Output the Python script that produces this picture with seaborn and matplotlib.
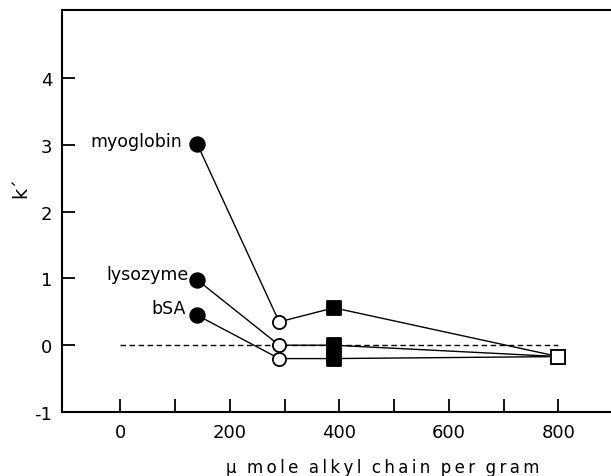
import matplotlib
matplotlib.use("Agg")
import matplotlib.pyplot as plt
import seaborn as sns
import pandas as pd

# ---- data ----
proteins = ["myoglobin", "lysozyme", "bSA"]
alkyl_x = [140, 290, 390, 800]          # µmole alkyl chain per gram
stage = ["filled circle", "open circle", "filled square", "open square"]
k_myoglobin = [3.02, 0.35, 0.56, -0.17]
k_lysozyme = [0.98, 0.00, 0.00, -0.17]
k_bsa = [0.45, -0.20, -0.20, -0.17]
baseline_x = [0, 800]
baseline_y = [0, 0]
xticks_major = [0, 200, 400, 600, 800]
xticks_minor = [100, 300, 500, 700]
yticks = [-1, 0, 1, 2, 3, 4]
xlabel_words = ["\u03bc", "mole", "alkyl", "chain", "per", "gram"]

series = {"myoglobin": k_myoglobin, "lysozyme": k_lysozyme, "bSA": k_bsa}
rows = []
for p in proteins:
    for x, k, s in zip(alkyl_x, series[p], stage):
        rows.append({"protein": p, "x": x, "k": k, "stage": s})
df = pd.DataFrame(rows)

sns.set_style("ticks")
plt.rcParams["font.family"] = ["DejaVu Sans"]
plt.rcParams["text.color"] = "black"
plt.rcParams["axes.labelcolor"] = "black"
plt.rcParams["xtick.color"] = "black"
plt.rcParams["ytick.color"] = "black"

fig = plt.figure(figsize=(6.11, 4.77), dpi=100)
ax = fig.add_axes([62 / 611, 64 / 477, 641 / 611, 402 / 477])

# dashed zero line
ax.plot(baseline_x, baseline_y, ls=(0, (4, 2.5)), color="black", lw=1.0, zorder=1)

# connecting lines
sns.lineplot(data=df, x="x", y="k", units="protein", estimator=None,
             color="black", lw=1.0, sort=False, ax=ax, zorder=2, legend=False)

# markers
fills = {"filled circle": "black", "open circle": "white",
         "filled square": "black", "open square": "white"}
marks = {"filled circle": "o", "open circle": "o",
         "filled square": "s", "open square": "s"}
sizes = {"filled circle": 110, "open circle": 90,
         "filled square": 90, "open square": 95}
for s in stage:
    sub = df[df["stage"] == s]
    sns.scatterplot(data=sub, x="x", y="k", marker=marks[s], color=fills[s],
                    edgecolor="black", linewidth=1.3, s=sizes[s], ax=ax,
                    zorder=3, legend=False)

# protein labels
offsets = {"myoglobin": (-11, 2), "lysozyme": (-6, 4.5), "bSA": (-8, 5)}
for p in proteins:
    ax.annotate(p, (alkyl_x[0], series[p][0]), xytext=offsets[p],
                textcoords="offset points", ha="right", va="center",
                fontsize=12.5, color="black")

ax.set_xlim(-106.6, 1064)
ax.set_ylim(-1, 5.02)
ax.set_xticks(xticks_major)
ax.set_xticks(xticks_minor, minor=True)
ax.set_yticks(yticks)
ax.set_xticklabels([str(v) for v in xticks_major])
ax.set_yticklabels([str(v) for v in yticks])

ax.tick_params(axis="both", which="both", direction="in", length=9.5,
               width=1.3, color="black", labelcolor="black", labelsize=13, pad=7)
ax.tick_params(axis="x", pad=8)
for sp in ax.spines.values():
    sp.set_linewidth(1.5)
    sp.set_color("black")

# letter-spaced axis title (thin spaces between letters, as in the original print)
xlabel = "  ".join("\u2009".join(w) for w in xlabel_words)
ax.set_xlabel(xlabel, fontsize=12, color="black")
ax.xaxis.label.set_va("baseline")
ax.xaxis.set_label_coords(0.5, (413 - 473) / 402)

ax.set_ylabel("k\u00b4", fontsize=14, rotation=90, color="black")
ax.yaxis.set_label_coords(-0.05, 0.562)

fig.savefig("out.png", dpi=100)
